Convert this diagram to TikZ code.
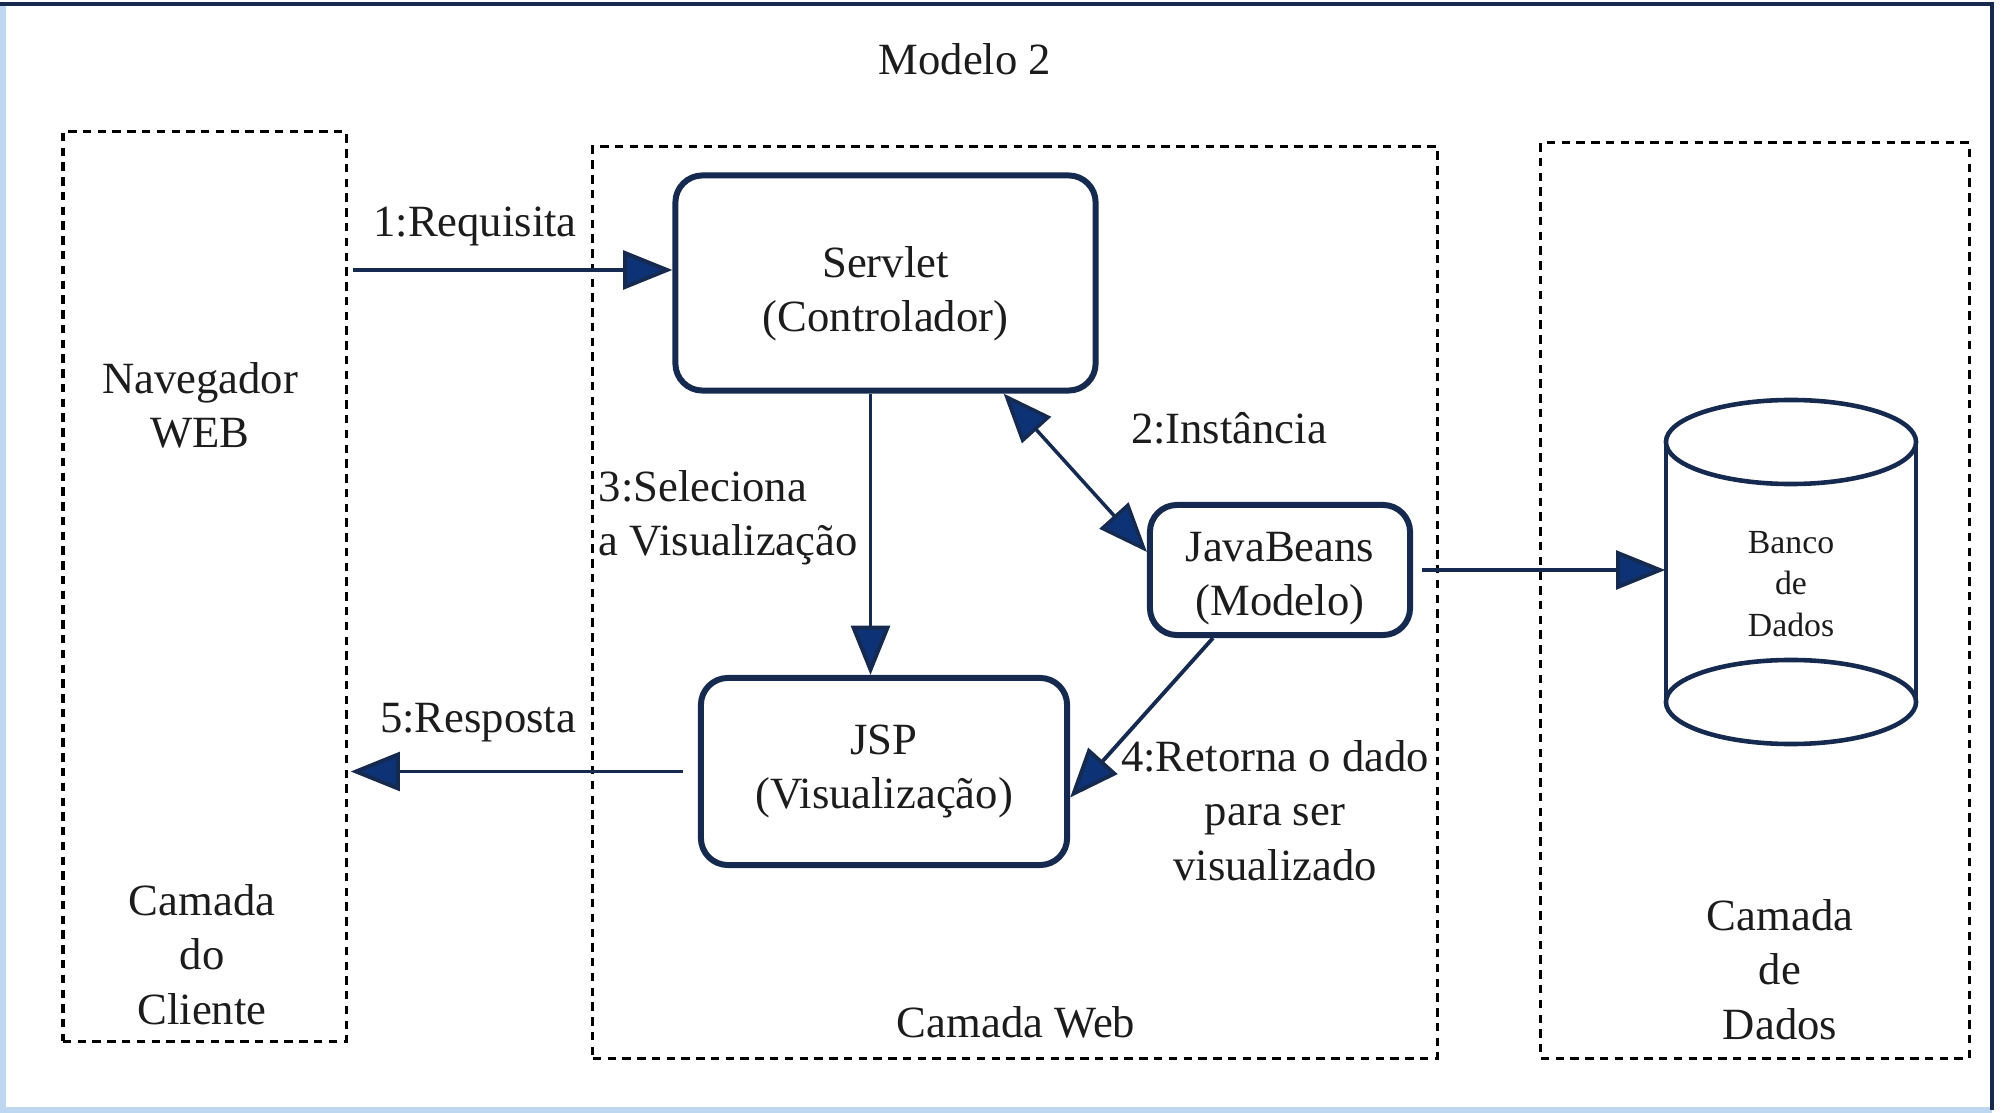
\documentclass[tikz,border=0pt]{standalone}
\usepackage{fontspec}
\setmainfont{Liberation Serif}
\usetikzlibrary{arrows.meta,calc}
\definecolor{navy}{RGB}{22,42,80}
\definecolor{headblue}{RGB}{14,50,118}
\definecolor{framelight}{RGB}{190,215,240}
\definecolor{txt}{RGB}{28,28,28}
\begin{document}
\begin{tikzpicture}[x=0.01cm,y=-0.01cm,
  every node/.style={font=\fontsize{12.7}{15.4}\selectfont, text=txt},
  zone/.style={draw=black, line width=0.9pt, dash pattern=on 2.4pt off 1.8pt, inner sep=0},
  comp/.style={draw=navy, line width=1.7pt, rounded corners=0.27cm, fill=white, inner sep=0},
  ctext/.style={align=center, inner sep=0},
  tip/.tip={Triangle[length=14pt,width=11pt,fill=headblue]},
  arr/.style={draw=navy, line width=1.1pt, -tip},
  dbl/.style={draw=navy, line width=1pt, tip-tip},
  lbl/.style={anchor=base},
  multi/.style={align=center, inner sep=0, anchor=north}]
\useasboundingbox (0,0) rectangle (2003,1113);
% outer frame
\draw[framelight, line width=1.5pt] (3,5) -- (3,1110) -- (1992,1110);
\draw[navy, line width=1.2pt] (0,4) -- (1992,4) -- (1992,1110);

% zones
\node[zone, minimum width=2.83cm, minimum height=9.09cm] (client) at (204.5,586.5) {};
\node[zone, minimum width=8.44cm, minimum height=9.11cm] (web) at (1015,602.5) {};
\node[zone, minimum width=4.28cm, minimum height=9.15cm] (data) at (1755,600.5) {};

% components
\node[comp, minimum width=4.2cm, minimum height=2.15cm] (servlet) at (885.5,283) {};
\node[ctext] (servletT) at ([yshift=-0.11cm]servlet.center) {Servlet\\(Controlador)};
\node[comp, minimum width=2.6cm, minimum height=1.3cm] (beans) at (1280,570) {};
\node[ctext] (beansT) at ([yshift=-0.09cm]beans.center) {JavaBeans\\(Modelo)};
\node[comp, minimum width=3.66cm, minimum height=1.87cm] (jsp) at (884,771.5) {};
\node[ctext] (jspT) at (jsp.center) {JSP\\(Visualização)};

% database cylinder
\node[font=\fontsize{9.6}{11.9}\selectfont, minimum width=2.5cm, minimum height=2.6cm, align=center, inner sep=0] (db) at (1791,584) {Banco\\de\\Dados};
\draw[navy, line width=1.3pt] (1666,442) -- (1666,702) (1916,442) -- (1916,702);
\draw[navy, line width=1.3pt] (1791,442) ellipse [x radius=1.25cm, y radius=0.42cm];
\draw[navy, line width=1.3pt] (1791,702) ellipse [x radius=1.25cm, y radius=0.42cm];

% connectors
\coordinate (r1) at ([yshift=0.13cm]servlet.west);
\draw[arr] ([xshift=0.05cm]client.east |- r1) -- (r1);
\draw[dbl] ([xshift=1.18cm]servlet.south) -- ([yshift=0.18cm]beans.west);
\coordinate (s3) at ([xshift=-0.15cm]servlet.south);
\draw[arr] (s3) -- (s3 |- jsp.north);
\draw[arr] ([xshift=-0.67cm]beans.south) -- ([yshift=-0.26cm]jsp.east);
\draw[arr] ([xshift=-0.15cm]jsp.west) -- ([xshift=0.03cm]client.east |- jsp.west);
\draw[arr] ([xshift=0.09cm]beans.east) -- (db.west |- beans.east);

% labels
\node[lbl] (title) at (965,75) {Modelo 2};
\node[lbl] (l1) at (475,237) {1:Requisita};
\node[lbl] (l2) at (1229,444) {2:Instância};
\node[align=left, inner sep=0, anchor=north west] (l3) at (598,470) {3:Seleciona\\a Visualização};
\node[multi] (l4) at (1275,740) {4:Retorna o dado\\para ser\\visualizado};
\node[lbl] (l5) at (478,732) {5:Resposta};
\node[multi] (nav) at (200,362) {Navegador\\WEB};
\node[multi] (cli) at (202,884) {Camada\\do\\Cliente};
\node[lbl] (cweb) at (1016,1037) {Camada Web};
\node[multi] (cdad) at (1780,899) {Camada\\de\\Dados};
\end{tikzpicture}
\end{document}
